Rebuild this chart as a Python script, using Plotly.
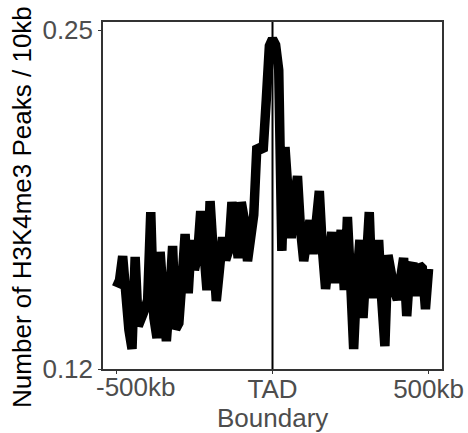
import plotly.graph_objects as go

# Distance from TAD boundary (kb), 10kb bins
positions_kb = [-500 + 10 * i for i in range(101)]

peaks_per_10kb = [
    0.1514, 0.1541, 0.1633, 0.1453, 0.1350, 0.1277, 0.1630, 0.1365, 0.1388, 0.1426,
    0.1465, 0.1802, 0.1396, 0.1319, 0.1649, 0.1503, 0.1307, 0.1465, 0.1672, 0.1353,
    0.1376, 0.1541, 0.1718, 0.1491, 0.1695, 0.1580, 0.1637, 0.1806, 0.1618, 0.1503,
    0.1844, 0.1618, 0.1461, 0.1580, 0.1706, 0.1618, 0.1656, 0.1840, 0.1733, 0.1626,
    0.1840, 0.1771, 0.1614, 0.1733, 0.1791, 0.2055, 0.2040, 0.2036, 0.2232, 0.2439,
    0.2466, 0.2443, 0.2347, 0.1653, 0.2051, 0.1848, 0.1702, 0.1848, 0.1940, 0.1733,
    0.1614, 0.1695, 0.1771, 0.1641, 0.1733, 0.1883, 0.1656, 0.1507, 0.1618, 0.1725,
    0.1530, 0.1656, 0.1733, 0.1503, 0.1783, 0.1541, 0.1277, 0.1541, 0.1695, 0.1396,
    0.1618, 0.1802, 0.1472, 0.1580, 0.1695, 0.1465, 0.1288, 0.1637, 0.1553, 0.1503,
    0.1465, 0.1541, 0.1626, 0.1403, 0.1580, 0.1607, 0.1480, 0.1599, 0.1587, 0.1430,
    0.1584,
]

x_tick_vals = [-500, 0, 500]
x_tick_labels = ["-500kb", "TAD", "500kb"]
y_tick_vals = [0.12, 0.25]
y_tick_text = ["0.12", "0.25"]

fig = go.Figure()
fig.add_trace(go.Scatter(
    x=positions_kb, y=peaks_per_10kb, mode="lines",
    line=dict(color="black", width=9.5), hoverinfo="skip", showlegend=False,
))
fig.add_shape(type="line", xref="x", yref="paper", x0=0, x1=0, y0=0, y1=1,
              line=dict(color="black", width=2))

tick_font = dict(family="Liberation Sans, Arial, sans-serif", size=26, color="#4d4d4d")

fig.update_layout(
    width=468, height=433,
    margin=dict(l=103, r=26, t=22, b=64),
    plot_bgcolor="white", paper_bgcolor="white",
    font=dict(family="Liberation Sans, Arial, sans-serif"),
    xaxis=dict(
        range=[-543, 543], tickvals=x_tick_vals,
        ticktext=[""] + x_tick_labels[1:],
        showgrid=False, zeroline=False, showline=True, mirror=True,
        linecolor="#333333", linewidth=1.5, ticks="outside", ticklen=3,
        tickcolor="#333333", tickfont=tick_font, automargin=False,
        ticklabelstandoff=-7,
    ),
    yaxis=dict(
        range=[0.12, 0.2531], tickvals=y_tick_vals, ticktext=y_tick_text,
        showgrid=False, zeroline=False, showline=True, mirror=True,
        linecolor="#333333", linewidth=1.5, ticks="outside", ticklen=3,
        tickcolor="#333333", tickfont=tick_font, automargin=False,
    ),
    annotations=[
        dict(text=x_tick_labels[0], xref="x", yref="paper", x=x_tick_vals[0],
             xshift=20, y=-0.052, xanchor="center", yanchor="middle",
             showarrow=False, font=tick_font),
        dict(text="Boundary", xref="x", yref="paper", x=0, y=-0.14,
             xanchor="center", yanchor="middle", showarrow=False,
             font=tick_font),
        dict(text="Number of H3K4me3 Peaks / 10kb", xref="paper", yref="paper",
             x=-0.239, y=0.467, xanchor="center", yanchor="middle",
             textangle=-90, showarrow=False,
             font=dict(family="Liberation Sans, Arial, sans-serif", size=26, color="black")),
    ],
)

fig.write_html("out.html")
